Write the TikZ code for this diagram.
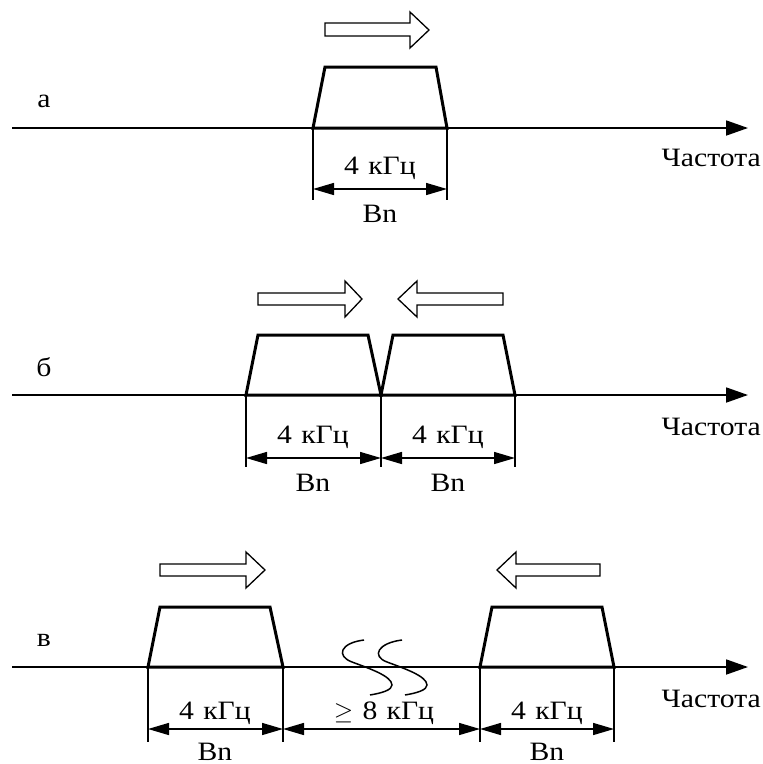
\documentclass[tikz,border=0pt]{standalone}
\usepackage{fontspec}
\setmainfont{Liberation Serif}[FakeStretch=1.12]
\usetikzlibrary{arrows.meta}
\begin{document}
\begin{tikzpicture}[x=1pt,y=-1pt,
  axis/.style={line width=1.8pt,-{Triangle[length=22pt,width=15pt]}},
  band/.style={line width=3pt,line join=miter},
  ext/.style={line width=1.5pt},
  dim/.style={line width=1.5pt,{Triangle[length=21pt,width=12pt]}-{Triangle[length=21pt,width=12pt]}},
  hollow/.style={line width=1.3pt,fill=white},
  wave/.style={line width=1.5pt},
  lbl/.style={font=\fontsize{26.5}{30}\selectfont,inner sep=0pt,anchor=base},
]
\useasboundingbox (0,0) rectangle (763,764);
% ---------- panel a ----------
\coordinate (a0) at (12,128); \coordinate (a1) at (748,128);
\draw[axis] (a0) -- (a1);
\coordinate (aL) at (313,128); \coordinate (aR) at (447,128);
\draw[band] (aL) -- (325,67) -- (436,67) -- (aR) -- cycle;
\draw[hollow] (325,23) -- (410,23) -- (410,12) -- (429,30) -- (410,48) -- (410,36) -- (325,36) -- cycle;
\coordinate (aLd) at (313,200); \coordinate (aRd) at (447,200);
\draw[ext] (aL) -- (aLd); \draw[ext] (aR) -- (aRd);
\coordinate (aD1) at (313,189); \coordinate (aD2) at (447,189);
\draw[dim] (aD1) -- (aD2);
\node[lbl] (aT) at (380,174) {4\hspace{0.35em}кГц};
\node[lbl] (aB) at (380,222) {Bn};
\node[lbl] (aLab) at (44,107) {а};
\node[lbl,anchor=base east] (aF) at (761,166) {Частота};
% ---------- panel b ----------
\coordinate (b0) at (12,395); \coordinate (b1) at (748,395);
\draw[axis] (b0) -- (b1);
\coordinate (bL) at (246,395); \coordinate (bM) at (381,395); \coordinate (bR) at (515,395);
\draw[band] (bL) -- (258,335) -- (368,335) -- (bM) -- cycle;
\draw[band] (bM) -- (393,335) -- (503,335) -- (bR) -- cycle;
\draw[hollow] (258,293) -- (345,293) -- (345,281) -- (362,299) -- (345,317) -- (345,305) -- (258,305) -- cycle;
\draw[hollow] (503,293) -- (417,293) -- (417,281) -- (398,299) -- (417,317) -- (417,305) -- (503,305) -- cycle;
\coordinate (bLd) at (246,467); \coordinate (bMd) at (381,467); \coordinate (bRd) at (515,467);
\draw[ext] (bL) -- (bLd); \draw[ext] (bM) -- (bMd); \draw[ext] (bR) -- (bRd);
\coordinate (bD1) at (246,458); \coordinate (bD2) at (381,458); \coordinate (bD3) at (515,458);
\draw[dim] (bD1) -- (bD2); \draw[dim] (bD2) -- (bD3);
\node[lbl] (bT1) at (313,443) {4\hspace{0.35em}кГц};
\node[lbl] (bT2) at (448,443) {4\hspace{0.35em}кГц};
\node[lbl] (bB1) at (313,491) {Bn};
\node[lbl] (bB2) at (448,491) {Bn};
\node[lbl] (bLab) at (44,376) {б};
\node[lbl,anchor=base east] (bF) at (761,435) {Частота};
% ---------- panel c ----------
\coordinate (c0) at (12,667); \coordinate (c1) at (748,667);
\draw[axis] (c0) -- (c1);
\coordinate (cA) at (148,667); \coordinate (cB) at (283,667); \coordinate (cC) at (480,667); \coordinate (cD) at (614,667);
\draw[band] (cA) -- (160,607) -- (270,607) -- (cB) -- cycle;
\draw[band] (cC) -- (492,607) -- (602,607) -- (cD) -- cycle;
\draw[hollow] (160,564) -- (246,564) -- (246,552) -- (265,570) -- (246,588) -- (246,576) -- (160,576) -- cycle;
\draw[hollow] (600,564) -- (516,564) -- (516,552) -- (497,570) -- (516,588) -- (516,576) -- (600,576) -- cycle;
\foreach \n/\x in {A/148,B/283,C/480,D/614}{
  \coordinate (c\n d) at (\x,742);
  \coordinate (c\n m) at (\x,729);
  \draw[ext] (c\n) -- (c\n d);
}
\draw[dim] (cAm) -- (cBm); \draw[dim] (cBm) -- (cCm); \draw[dim] (cCm) -- (cDm);
\draw[wave] (364,640) .. controls (340,643) and (336,656) .. (352,662) .. controls (368,668) and (392,676) .. (392,685) .. controls (392,690) and (382,693) .. (370,695);
\draw[wave] (402,640) .. controls (378,643) and (371,656) .. (387,662) .. controls (403,668) and (427,676) .. (427,685) .. controls (427,690) and (417,693) .. (405,695);
\node[lbl] (cT1) at (215,719) {4\hspace{0.35em}кГц};
\node[lbl] (cT2) at (384,719) {$\geq$\hspace{0.35em}8\hspace{0.35em}кГц};
\node[lbl] (cT3) at (547,719) {4\hspace{0.35em}кГц};
\node[lbl] (cB1) at (215,760) {Bn};
\node[lbl] (cB2) at (547,760) {Bn};
\node[lbl] (cLab) at (44,646) {в};
\node[lbl,anchor=base east] (cF) at (761,707) {Частота};
\end{tikzpicture}
\end{document}
